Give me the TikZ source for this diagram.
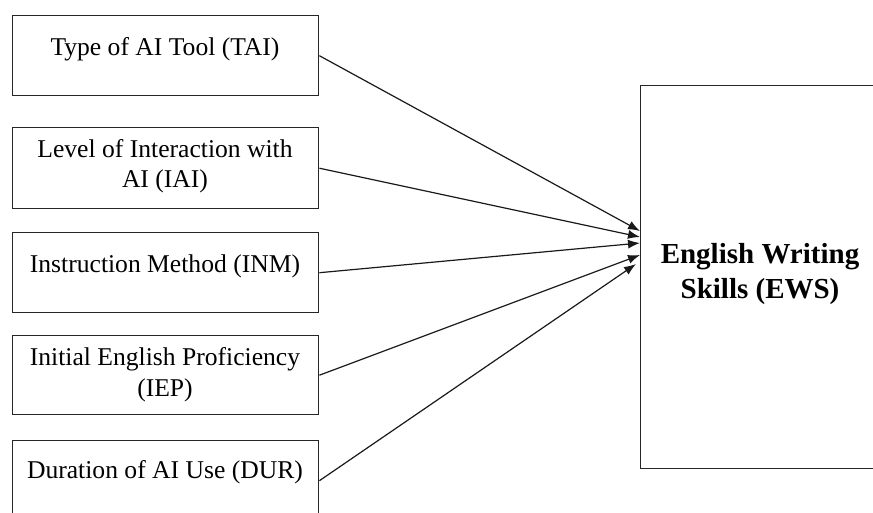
\documentclass[tikz,border=0pt]{standalone}
\usepackage{fontspec}
\setmainfont{Liberation Serif}
\usetikzlibrary{arrows.meta}
\begin{document}
\begin{tikzpicture}[x=1pt,y=-1pt,
  box/.style={draw=black!85,line width=1.4pt,inner sep=0pt,anchor=north west},
  lbl/.style={anchor=base,inner sep=0pt,font=\fontsize{25.6}{30}\selectfont},
  blbl/.style={anchor=base,inner sep=0pt,font=\fontsize{29}{34}\selectfont\bfseries},
  conn/.style={draw=black!90,line width=1.2pt,-{Latex[length=12pt,width=9pt]}}]
\useasboundingbox (0,0) rectangle (873,512);
\clip (0,0) rectangle (873,512);
% left boxes
\node[box,minimum width=306pt,minimum height=80pt] (tai) at (12,15) {};
\node[box,minimum width=306pt,minimum height=81pt] (iai) at (12,127) {};
\node[box,minimum width=306pt,minimum height=80pt] (inm) at (12,232) {};
\node[box,minimum width=306pt,minimum height=79pt] (iep) at (12,335) {};
\node[box,minimum width=306pt,minimum height=80pt] (dur) at (12,440) {};
% right box
\node[box,minimum width=260pt,minimum height=383pt] (ews) at (640,85) {};
% texts
\node[lbl] (ttai) at (165,55) {Type of AI Tool (TAI)};
\node[lbl] (tiai1) at (165,157) {Level of Interaction with};
\node[lbl] (tiai2) at (165,187) {AI (IAI)};
\node[lbl] (tinm) at (165,272) {Instruction Method (INM)};
\node[lbl] (tiep1) at (165,365) {Initial English Proficiency};
\node[lbl] (tiep2) at (165,396) {(IEP)};
\node[lbl] (tdur) at (165,478) {Duration of AI Use (DUR)};
\node[blbl] (tews1) at (760,263) {English Writing};
\node[blbl] (tews2) at (760,298) {Skills (EWS)};
% arrow ends
\coordinate (e1) at (640,231);
\coordinate (e2) at (640,237);
\coordinate (e3) at (640,243);
\coordinate (e4) at (640,255);
\coordinate (e5) at (636,264);
\draw[conn] (tai.east) -- (e1);
\draw[conn] (iai.east) -- (e2);
\draw[conn] (inm.east) -- (e3);
\draw[conn] (iep.east) -- (e4);
\draw[conn] (dur.east) -- (e5);
\end{tikzpicture}
\end{document}
